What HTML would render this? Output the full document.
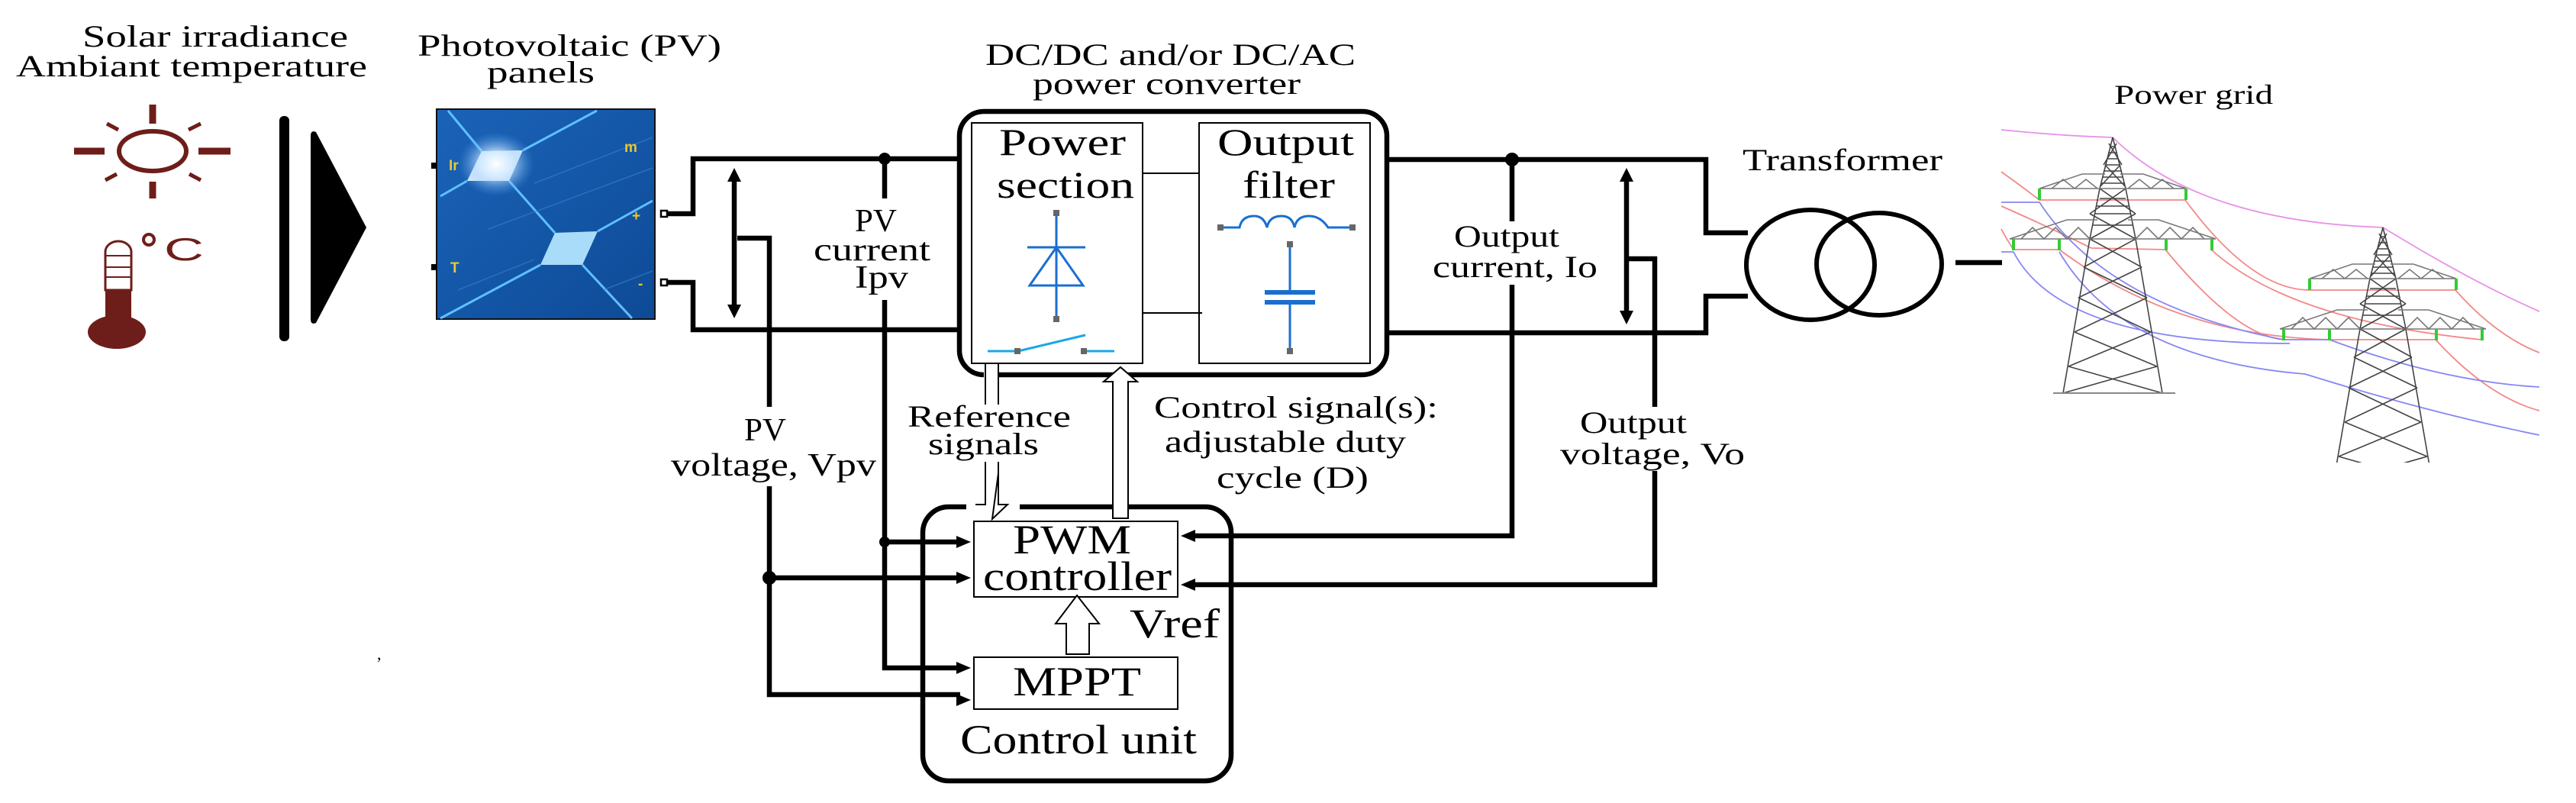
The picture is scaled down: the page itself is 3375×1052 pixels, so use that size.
<!DOCTYPE html>
<html><head><meta charset="utf-8"><style>
html,body{margin:0;padding:0;background:#fff;}
svg{display:block;}
</style></head><body>
<svg width="3375" height="1052" viewBox="0 0 3375 1052" xmlns="http://www.w3.org/2000/svg" font-family="Liberation Serif, Times New Roman, serif">
<defs>
<linearGradient id="pv" x1="0" y1="0" x2="1" y2="1">
<stop offset="0" stop-color="#1b63b8"/><stop offset="0.5" stop-color="#1457a8"/><stop offset="1" stop-color="#0e4a96"/>
</linearGradient>
<radialGradient id="glow" cx="0.5" cy="0.5" r="0.5">
<stop offset="0" stop-color="#ffffff" stop-opacity="1"/><stop offset="0.4" stop-color="#cfe8ff" stop-opacity="0.8"/><stop offset="1" stop-color="#4f9be8" stop-opacity="0"/>
</radialGradient>
<g id="tower" stroke="#444" stroke-width="1.6" fill="none">
<polyline points="0,0 -17,67 -30,133 -65,335"/>
<polyline points="0,0 17,67 30,133 65,335"/>
<path d="M-4,12 L4,12 M-6,20 L6,20 M-8,28 L8,28 M-10,36 L10,36 M-12,44 L12,44 M-14,52 L14,52 M-16,60 L16,60 M-5,8 L12,36 M5,8 L-12,36 M-10,36 L16,64 M10,36 L-16,64"/>
<path d="M-17,67 L30,100 M17,67 L-30,100 M-30,100 L30,133 M30,100 L-30,133 M-24,100 L24,100 M-17,80 L17,80 M-22,90 L22,90 M-26,115 L26,115"/>
<path d="M-30,133 L38,170 M30,133 L-38,170 M-38,170 L45,210 M38,170 L-45,210 M-45,210 L50,255 M45,210 L-50,255 M-50,255 L58,300 M50,255 L-58,300 M-58,300 L65,335 M58,300 L-65,335"/>
<path d="M-96,67 L96,67 M-96,67 L-40,48 L-10,48 M96,67 L40,48 L10,48 M-80,67 L-65,55 L-50,67 L-35,55 L-20,67 M80,67 L65,55 L50,67 L35,55 L20,67" stroke="#777"/>
<path d="M-135,133 L135,133 M-135,133 L-60,108 L-20,108 M135,133 L60,108 L20,108 M-120,133 L-105,118 L-90,133 L-75,118 L-60,133 L-45,118 L-30,133 M120,133 L105,118 L90,133 L75,118 L60,133 L45,118 L30,133" stroke="#777"/>
<path d="M-96,67 L-96,82 M96,67 L96,82 M-130,133 L-130,148 M-70,133 L-70,148 M70,133 L70,148 M130,133 L130,148" stroke="#3c3" stroke-width="4"/>
</g>
</defs>

<text x="108" y="61" font-size="40" textLength="348" lengthAdjust="spacingAndGlyphs">Solar irradiance</text>
<text x="21" y="100" font-size="40" textLength="460" lengthAdjust="spacingAndGlyphs">Ambiant temperature</text>
<g stroke="#6e1e1a" fill="none">
<ellipse cx="200" cy="198" rx="44" ry="26" stroke-width="6"/>
<path d="M200,137 L200,162 M200,238 L200,260 M97,198 L137,198 M260,198 L302,198" stroke-width="9"/>
<path d="M140,162 L155,170 M247,170 L263,162 M138,236 L153,228 M248,228 L263,236" stroke-width="5"/>
</g>
<path d="M138,380 L138,330 A17,14 0 0 1 172,330 L172,380 Z" fill="none" stroke="#6e1e1a" stroke-width="3"/>
<path d="M138,335 L172,335 M138,350 L172,350 M138,363 L172,363" stroke="#6e1e1a" stroke-width="2"/>
<rect x="138" y="380" width="34" height="40" fill="#6e1e1a"/>
<ellipse cx="153" cy="435" rx="38" ry="22" fill="#6e1e1a"/>
<circle cx="195" cy="314" r="7" fill="none" stroke="#6e1e1a" stroke-width="4"/>
<text x="215" y="341" font-size="42" font-family="Liberation Sans, Arial, sans-serif" fill="#6e1e1a" textLength="52" lengthAdjust="spacingAndGlyphs">C</text>
<rect x="366" y="152" width="13" height="295" rx="6" fill="#000"/>
<path d="M407,178 Q407,170 414,173 L480,298 L414,423 Q407,426 407,418 Z" fill="#000"/>
<text x="494" y="864" font-size="22">,</text>

<text x="547" y="73" font-size="40" textLength="398" lengthAdjust="spacingAndGlyphs">Photovoltaic (PV)</text>
<text x="638" y="108" font-size="40" textLength="141" lengthAdjust="spacingAndGlyphs">panels</text>
<rect x="572" y="143" width="286" height="275" fill="url(#pv)" stroke="#111" stroke-width="2"/>
<g stroke="#5fc0ff" stroke-width="3" fill="none">
<path d="M587,145 L631,198 M685,197 L782,145 M612,237 L577,257 M667,237 L727,305 M783,303 L855,263 M708,347 L577,417 M763,347 L828,417"/>
</g>
<g stroke="#3d7fc8" stroke-width="1.5" opacity="0.6"><path d="M700,240 L855,180 M640,300 L855,220 M600,380 L700,340 M790,380 L855,355"/></g>
<path d="M631,198 L685,197 L667,237 L612,237 Z" fill="#e8f6ff"/>
<path d="M727,305 L783,303 L763,347 L708,347 Z" fill="#a8dcf8"/>
<ellipse cx="650" cy="215" rx="50" ry="42" fill="url(#glow)"/>
<g font-family="Liberation Sans, Arial, sans-serif" fill="#e8c930" font-size="19" font-weight="bold">
<text x="588" y="223">Ir</text><text x="590" y="357">T</text><text x="818" y="199">m</text><text x="828" y="289">+</text><text x="836" y="378">-</text>
</g>
<rect x="866" y="276" width="8" height="8" fill="#fff" stroke="#000" stroke-width="2.5"/>
<rect x="866" y="366" width="8" height="8" fill="#fff" stroke="#000" stroke-width="2.5"/>
<rect x="565" y="213" width="7" height="8" fill="#000"/><rect x="565" y="346" width="7" height="8" fill="#000"/>

<g stroke="#000" stroke-width="6.5" fill="none" stroke-linejoin="miter">
<polyline points="874,280 908,280 908,208 1256,208"/>
<polyline points="874,370 908,370 908,432 1256,432"/>
<polyline points="966,312 1008,312 1008,533"/>
<polyline points="1008,637 1008,910 1258,910"/>
<line x1="1008" y1="757" x2="1258" y2="757"/>
<line x1="1159" y1="208" x2="1159" y2="260"/>
<polyline points="1159,393 1159,875 1258,875"/>
<line x1="1159" y1="710" x2="1258" y2="710"/>
<line x1="962" y1="232" x2="962" y2="405"/>
<polyline points="1816,209 2235,209 2235,305 2290,305"/>
<polyline points="1816,436 2235,436 2235,388 2290,388"/>
<line x1="1981" y1="209" x2="1981" y2="290"/>
<polyline points="1981,373 1981,702 1560,702"/>
<polyline points="2131,339 2168,339 2168,533"/>
<polyline points="2168,617 2168,766 1560,766"/>
<line x1="2131" y1="232" x2="2131" y2="413"/>
<line x1="2562" y1="344" x2="2623" y2="344"/>
</g>
<g fill="#000">
<circle cx="1159" cy="208" r="8"/><circle cx="1159" cy="710" r="7"/><circle cx="1008" cy="757" r="9"/><circle cx="1981" cy="209" r="9"/>
<path d="M962,220 L953,238 L971,238 Z M962,417 L953,399 L971,399 Z"/>
<path d="M2131,220 L2122,238 L2140,238 Z M2131,425 L2122,407 L2140,407 Z"/>
<path d="M1272,710 L1253,702 L1253,718 Z M1272,757 L1253,749 L1253,765 Z M1272,875 L1253,867 L1253,883 Z M1272,917 L1253,909 L1253,925 Z"/>
<path d="M1547,702 L1566,694 L1566,710 Z M1547,766 L1566,758 L1566,774 Z"/>
</g>

<text x="1291" y="85" font-size="40" textLength="485" lengthAdjust="spacingAndGlyphs">DC/DC and/or DC/AC</text>
<text x="1353" y="123" font-size="40" textLength="351" lengthAdjust="spacingAndGlyphs">power converter</text>
<rect x="1257" y="146" width="560" height="345" rx="32" fill="#fff" stroke="#000" stroke-width="6.5"/>
<rect x="1273" y="161" width="224" height="315" fill="#fff" stroke="#000" stroke-width="2"/>
<rect x="1571" y="161" width="224" height="315" fill="#fff" stroke="#000" stroke-width="2"/>
<path d="M1497,227 L1571,227 M1497,410 L1575,410" stroke="#000" stroke-width="2"/>
<text x="1309" y="203" font-size="50" textLength="166" lengthAdjust="spacingAndGlyphs">Power</text>
<text x="1306" y="259" font-size="50" textLength="180" lengthAdjust="spacingAndGlyphs">section</text>
<text x="1595" y="203" font-size="50" textLength="179" lengthAdjust="spacingAndGlyphs">Output</text>
<text x="1628" y="259" font-size="50" textLength="121" lengthAdjust="spacingAndGlyphs">filter</text>
<g stroke="#1a6fd0" stroke-width="3" fill="none">
<path d="M1384,283 L1384,374 M1346,324 L1422,324 M1384,324 L1349,374 L1419,374 Z M1384,374 L1384,414"/>
<path d="M1294,460 L1330,460 M1334,460 L1422,439 M1424,460 L1460,460" stroke="#18a8e8"/>
<path d="M1602,298 L1624,298 Q1627,283 1643,283 Q1656,283 1660,298 Q1663,283 1679,283 Q1693,283 1696,298 Q1699,283 1715,283 Q1730,283 1740,298 L1768,298"/>
<path d="M1690,324 L1690,383 M1690,396 L1690,456"/>
<path d="M1657,383 L1723,383 M1657,396 L1723,396" stroke-width="6"/>
</g>
<g fill="#666">
<rect x="1380" y="275" width="8" height="8"/><rect x="1380" y="414" width="8" height="8"/><rect x="1329" y="456" width="8" height="8"/><rect x="1416" y="456" width="8" height="8"/>
<rect x="1595" y="294" width="8" height="8"/><rect x="1768" y="294" width="8" height="8"/><rect x="1686" y="316" width="8" height="8"/><rect x="1686" y="456" width="8" height="8"/>
</g>

<rect x="1209" y="664" width="404" height="359" rx="34" fill="none" stroke="#000" stroke-width="6.5"/>
<rect x="1266" y="655" width="70" height="18" fill="#fff"/>
<rect x="1276" y="683" width="267" height="99" fill="#fff" stroke="#000" stroke-width="2"/>
<rect x="1276" y="861" width="267" height="68" fill="#fff" stroke="#000" stroke-width="2"/>
<text x="1327" y="725" font-size="54" textLength="155" lengthAdjust="spacingAndGlyphs">PWM</text>
<text x="1288" y="773" font-size="54" textLength="247" lengthAdjust="spacingAndGlyphs">controller</text>
<text x="1480" y="835" font-size="54" textLength="118" lengthAdjust="spacingAndGlyphs">Vref</text>
<text x="1327" y="911" font-size="54" textLength="168" lengthAdjust="spacingAndGlyphs">MPPT</text>
<text x="1258" y="987" font-size="54" textLength="310" lengthAdjust="spacingAndGlyphs">Control unit</text>
<path d="M1397,857 L1397,817 L1383,817 L1411,780 L1440,817 L1427,817 L1427,857 Z" fill="#fff" stroke="#000" stroke-width="2"/>
<path d="M1458,679 L1458,500 L1446,500 L1468,481 L1490,500 L1478,500 L1478,679 Z" fill="#fff" stroke="#000" stroke-width="2"/>
<rect x="1289" y="487" width="20" height="10" fill="#fff"/>
<path d="M1291,476 L1291,660 M1308,476 L1308,660" stroke="#000" stroke-width="2"/>
<path d="M1278,661 L1291,661 L1291,620 M1308,620 L1308,661 L1320,661 L1300,680 Z" fill="#fff" stroke="#000" stroke-width="2"/>
<rect x="1286" y="530" width="27" height="75" fill="#fff"/>

<text x="1120" y="303" font-size="42" textLength="55" lengthAdjust="spacingAndGlyphs">PV</text>
<text x="1066" y="341" font-size="42" textLength="153" lengthAdjust="spacingAndGlyphs">current</text>
<text x="1120" y="377" font-size="42" textLength="70" lengthAdjust="spacingAndGlyphs">Ipv</text>
<text x="975" y="577" font-size="42" textLength="55" lengthAdjust="spacingAndGlyphs">PV</text>
<text x="879" y="623" font-size="42" textLength="269" lengthAdjust="spacingAndGlyphs">voltage, Vpv</text>
<text x="1189" y="559" font-size="40" textLength="214" lengthAdjust="spacingAndGlyphs">Reference</text>
<text x="1216" y="595" font-size="40" textLength="145" lengthAdjust="spacingAndGlyphs">signals</text>
<text x="1512" y="547" font-size="40" textLength="372" lengthAdjust="spacingAndGlyphs">Control signal(s):</text>
<text x="1526" y="592" font-size="40" textLength="316" lengthAdjust="spacingAndGlyphs">adjustable duty</text>
<text x="1594" y="639" font-size="40" textLength="199" lengthAdjust="spacingAndGlyphs">cycle (D)</text>
<text x="1905" y="323" font-size="40" textLength="138" lengthAdjust="spacingAndGlyphs">Output</text>
<text x="1877" y="363" font-size="40" textLength="216" lengthAdjust="spacingAndGlyphs">current, Io</text>
<text x="2070" y="567" font-size="40" textLength="140" lengthAdjust="spacingAndGlyphs">Output</text>
<text x="2044" y="608" font-size="40" textLength="242" lengthAdjust="spacingAndGlyphs">voltage, Vo</text>

<text x="2283" y="223" font-size="40" textLength="262" lengthAdjust="spacingAndGlyphs">Transformer</text>
<ellipse cx="2372" cy="347" rx="84" ry="72" fill="none" stroke="#000" stroke-width="6"/>
<ellipse cx="2462" cy="346" rx="82" ry="67" fill="none" stroke="#000" stroke-width="6"/>

<text x="2770" y="136" font-size="36" textLength="208" lengthAdjust="spacingAndGlyphs">Power grid</text>
<g fill="none" stroke-width="1.8" opacity="0.75">
<path d="M2622,170 Q2700,178 2768,180 Q2880,290 3122,298 Q3240,370 3327,408" stroke="#e070e0"/>
<path d="M2622,225 Q2650,245 2672,262 L2863,262 Q2950,380 3026,380" stroke="#f06060"/>
<path d="M3026,380 L3217,380 Q3270,440 3327,462" stroke="#f06060"/>
<path d="M2622,270 Q2690,300 2740,325 L2837,327 Q2930,440 2992,445" stroke="#f06060"/>
<path d="M2622,300 Q2630,315 2638,327 L2698,327 Q2850,440 3052,445 L3191,445 Q3260,520 3327,538" stroke="#f06060"/>
<path d="M2897,327 Q3000,420 3251,445" stroke="#f06060"/>
<path d="M2622,265 L2672,265 Q2760,400 2992,445 L3052,445 Q3200,500 3327,507" stroke="#6060f0"/>
<path d="M2622,330 L2638,330 Q2700,450 3000,450 M2698,330 Q2780,470 3020,490 Q3180,540 3327,570" stroke="#6060f0"/>
</g>
<use href="#tower" x="2768" y="180"/>
<use href="#tower" x="3122" y="298"/>
<rect x="2690" y="514" width="160" height="2" fill="#888"/>
<rect x="2900" y="606" width="400" height="40" fill="#fff"/>
</svg>
</body></html>
